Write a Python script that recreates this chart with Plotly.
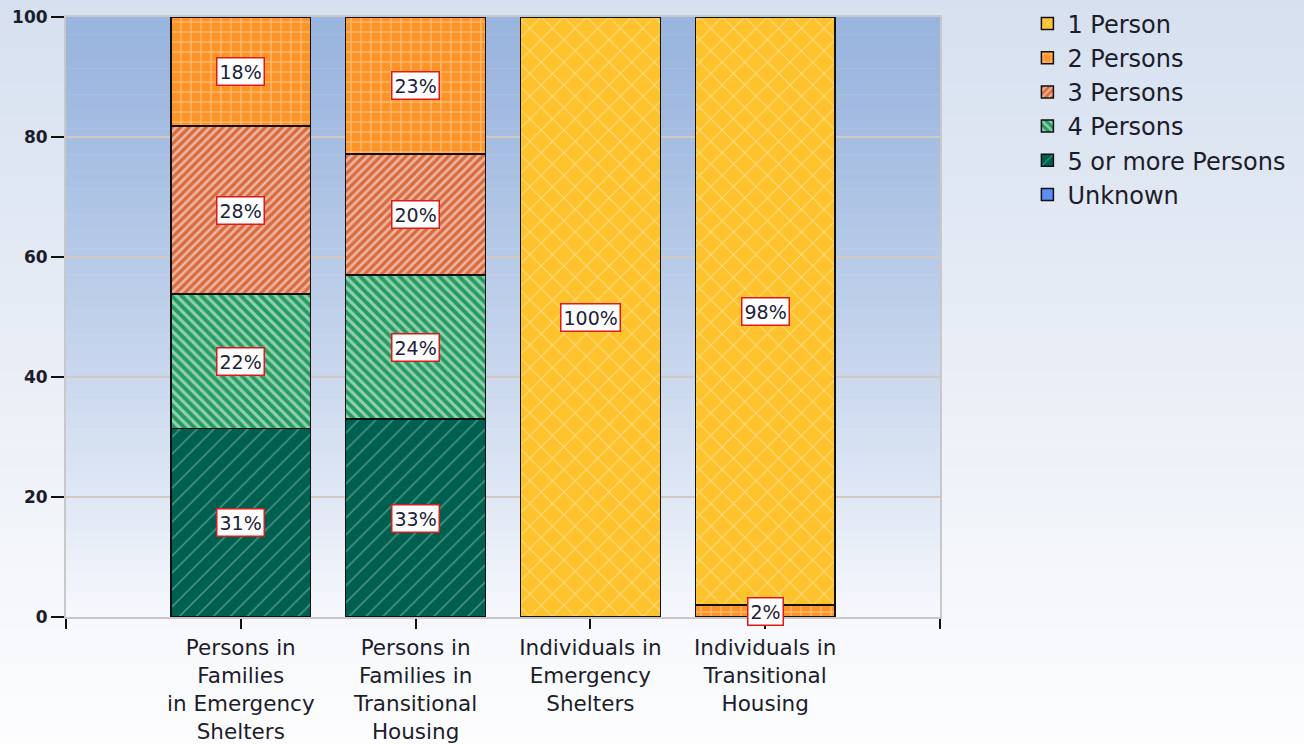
import plotly.graph_objects as go

# categories along x, drawn in this order
categories = [
    "Persons in<br>Families<br>in Emergency<br>Shelters",
    "Persons in<br>Families in<br>Transitional<br>Housing",
    "Individuals in<br>Emergency<br>Shelters",
    "Individuals in<br>Transitional<br>Housing",
]

# household size shares (%), one list per series
one_person = [0, 0, 100, 98]
two_persons = [18.2, 22.8, 0, 2]
three_persons = [28.0, 20.2, 0, 0]
four_persons = [22.4, 24.0, 0, 0]
five_plus = [31.4, 33.0, 0, 0]
unknown = [0, 0, 0, 0]

legend_order = ["1 Person", "2 Persons", "3 Persons", "4 Persons",
                "5 or more Persons", "Unknown"]

y_ticks = [0, 20, 40, 60, 80, 100]

FONT = "DejaVu Sans"

# stacked from the bottom up
series = [
    ("Unknown", unknown, dict(color="#5b8ef6")),
    ("5 or more Persons", five_plus,
     dict(color="#00604f", pattern=dict(shape="/", bgcolor="#00604f", fgcolor="#9fd3c8",
                                        size=12, solidity=0.12))),
    ("4 Persons", four_persons,
     dict(color="#249c60", pattern=dict(shape="\\", bgcolor="#249c60", fgcolor="white",
                                        size=7, solidity=0.45))),
    ("3 Persons", three_persons,
     dict(color="#d96a3e", pattern=dict(shape="/", bgcolor="#d96a3e", fgcolor="white",
                                        size=6, solidity=0.45))),
    ("2 Persons", two_persons,
     dict(color="#fd9428", pattern=dict(shape="+", bgcolor="#fd9428", fgcolor="#fff3e0",
                                        size=10, solidity=0.2))),
    ("1 Person", one_person,
     dict(color="#fdc22c", pattern=dict(shape="x", bgcolor="#fdc22c", fgcolor="#fff8e0",
                                        size=16, solidity=0.12))),
]


def _blend(c0, c1, t):
    a = [int(c0[i:i + 2], 16) for i in (1, 3, 5)]
    b = [int(c1[i:i + 2], 16) for i in (1, 3, 5)]
    return "rgb(%d,%d,%d)" % tuple(round(p + (q - p) * t) for p, q in zip(a, b))


def gradient_bands(top, bottom, y_top, y_bot, x0, x1, n=60, gamma=1.0):
    """Horizontal bands in paper coords that fake a vertical gradient."""
    step = (y_top - y_bot) / n
    bands = []
    for i in range(n):
        t = ((i + 0.5) / n) ** gamma
        y1 = y_top - i * step
        bands.append(dict(type="rect", xref="paper", yref="paper", layer="below",
                          x0=x0, x1=x1, y0=y1 - step * 1.05, y1=y1,
                          fillcolor=_blend(top, bottom, t), line=dict(width=0)))
    return bands


fig = go.Figure()
x_pos = list(range(len(categories)))

for name, values, marker in series:
    fig.add_trace(go.Bar(
        x=x_pos, y=values, name=name, width=0.8,
        legendrank=legend_order.index(name) + 1,
        marker=dict(line=dict(color="#111111", width=1.5), **marker),
        hoverinfo="skip",
    ))

# value boxes centred on each segment
annotations = []
for ci in x_pos:
    base = 0
    for name, values, _ in series:
        v = values[ci]
        if v > 0:
            annotations.append(dict(
                x=ci, y=base + v / 2, xref="x", yref="y", text=f"{round(v)}%",
                showarrow=False, bgcolor="white", bordercolor="#e01818",
                borderwidth=1.5, borderpad=2,
                font=dict(family=FONT, size=19, color="#1c2236"),
            ))
        base += v

shapes = gradient_bands("#d6e0ef", "#fdfdfe", 1.03, -0.215, -0.08, 1.42, n=70)
shapes += gradient_bands("#99b4de", "#f6f8fc", 1.0, 0.0, 0.0, 1.0, n=70, gamma=1.25)

fig.update_layout(
    width=1304, height=744,
    margin=dict(l=66, r=364, t=17, b=127, autoexpand=False),
    barmode="stack",
    paper_bgcolor="#fdfdfe",
    plot_bgcolor="rgba(0,0,0,0)",
    shapes=shapes,
    annotations=annotations,
    showlegend=True,
    legend=dict(
        x=1.1, y=1.026, xanchor="left", yanchor="top",
        traceorder="normal", bgcolor="rgba(0,0,0,0)",
        font=dict(family=FONT, size=24, color="#1c1c2a"),
    ),
    xaxis=dict(
        range=[-1, 4], automargin=False,
        tickvals=[-1] + x_pos + [4], ticktext=[""] + categories + [""],
        ticks="outside", ticklen=10, tickwidth=2, tickcolor="#111111",
        showgrid=False, zeroline=False,
        showline=True, linecolor="#c8c8c8", linewidth=2, mirror=True,
        tickfont=dict(family=FONT, size=21.5, color="#1c1c2a"),
    ),
    yaxis=dict(
        range=[0, 100], automargin=False,
        tickvals=y_ticks,
        ticks="outside", ticklen=13, tickwidth=2, tickcolor="#111111",
        showgrid=True, gridcolor="#d3c9c0", gridwidth=1.5, zeroline=False,
        showline=True, linecolor="#c8c8c8", linewidth=2, mirror=True,
        tickfont=dict(family=FONT, size=17, color="#1c1c2a", weight="bold"),
    ),
)

# the page is shot edge to edge, so drop the default body margin
fig.write_html("out.html", config={"displayModeBar": False},
               post_script="document.body.style.margin = '0';")
